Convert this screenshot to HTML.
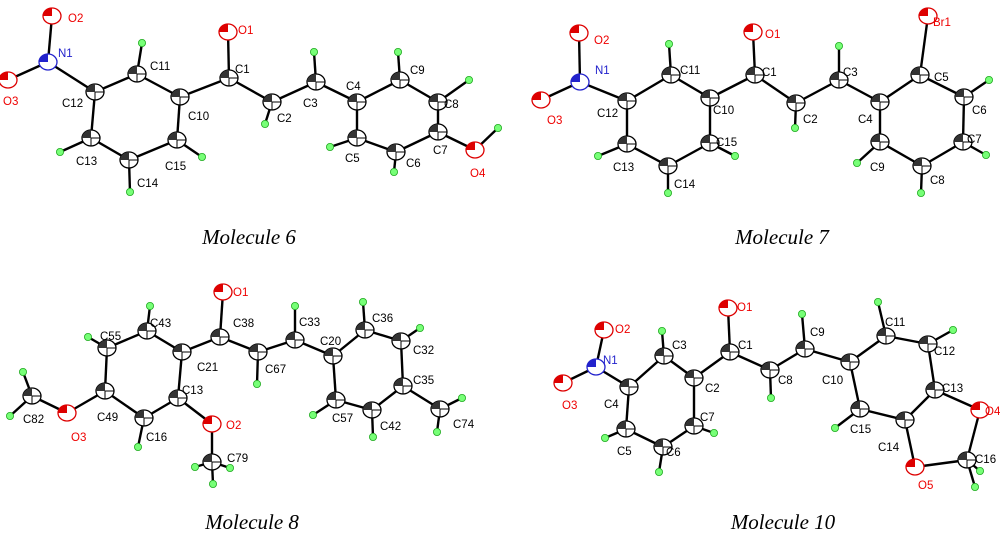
<!DOCTYPE html>
<html><head><meta charset="utf-8"><style>
body{margin:0;background:#fff}
svg text{font-family:"Liberation Sans",sans-serif;font-size:11.5px}
.cap{font-family:"Liberation Serif",serif;font-style:italic;font-size:21px}
.r{fill:#e00}.b{fill:#22c}
line{stroke:#000;stroke-width:2.4}
</style></head><body>
<svg width="1000" height="539" viewBox="0 0 1000 539" xmlns="http://www.w3.org/2000/svg">
<defs>
<symbol id="c" overflow="visible"><ellipse cx="0" cy="0" rx="9" ry="8" fill="#fff" stroke="#000" stroke-width="1.3"/><path d="M0 0 L-9 0 A9 8 0 0 1 0 -8 Z" fill="#333"/><path d="M0 0 L0 8 M0 0 L9 0" stroke="#000" stroke-width="1"/></symbol>
<symbol id="o" overflow="visible"><ellipse cx="0" cy="0" rx="9" ry="8" fill="#fff" stroke="#d00" stroke-width="1.3"/><path d="M0 0 L-9 0 A9 8 0 0 1 0 -8 Z" fill="#d00"/></symbol>
<symbol id="n" overflow="visible"><ellipse cx="0" cy="0" rx="9" ry="8" fill="#fff" stroke="#22c" stroke-width="1.3"/><path d="M0 0 L-9 0 A9 8 0 0 1 0 -8 Z" fill="#22c"/></symbol>
<symbol id="h" overflow="visible"><circle r="3.6" fill="#7f7" stroke="#2a2" stroke-width="0.8"/></symbol>
</defs>

<!-- Molecule 6 bonds -->
<g>
<line x1="52" y1="16" x2="48" y2="62"/><line x1="48" y1="62" x2="8" y2="80"/><line x1="48" y1="62" x2="95" y2="92"/>
<line x1="95" y1="92" x2="137" y2="74"/><line x1="137" y1="74" x2="180" y2="97"/><line x1="180" y1="97" x2="177" y2="140"/>
<line x1="177" y1="140" x2="129" y2="160"/><line x1="129" y1="160" x2="91" y2="138"/><line x1="91" y1="138" x2="95" y2="92"/>
<line x1="180" y1="97" x2="229" y2="78"/><line x1="229" y1="78" x2="228" y2="32"/><line x1="229" y1="78" x2="272" y2="102"/>
<line x1="272" y1="102" x2="316" y2="82"/><line x1="316" y1="82" x2="357" y2="102"/><line x1="357" y1="102" x2="400" y2="80"/>
<line x1="400" y1="80" x2="438" y2="102"/><line x1="438" y1="102" x2="438" y2="132"/><line x1="438" y1="132" x2="396" y2="152"/>
<line x1="396" y1="152" x2="357" y2="138"/><line x1="357" y1="138" x2="357" y2="102"/><line x1="438" y1="132" x2="475" y2="150"/>
<line x1="475" y1="150" x2="498" y2="128"/>
<line x1="137" y1="74" x2="142" y2="43"/><line x1="91" y1="138" x2="60" y2="152"/><line x1="129" y1="160" x2="130" y2="192"/>
<line x1="177" y1="140" x2="202" y2="157"/><line x1="272" y1="102" x2="265" y2="124"/><line x1="316" y1="82" x2="314" y2="52"/>
<line x1="400" y1="80" x2="398" y2="52"/><line x1="438" y1="102" x2="469" y2="80"/><line x1="396" y1="152" x2="394" y2="172"/>
<line x1="357" y1="138" x2="330" y2="147"/>
</g>
<g>
<use href="#o" x="52" y="16"/><use href="#n" x="48" y="62"/><use href="#o" x="8" y="80"/><use href="#c" x="95" y="92"/>
<use href="#c" x="137" y="74"/><use href="#c" x="180" y="97"/><use href="#c" x="229" y="78"/><use href="#o" x="228" y="32"/>
<use href="#c" x="272" y="102"/><use href="#c" x="316" y="82"/><use href="#c" x="357" y="102"/><use href="#c" x="400" y="80"/>
<use href="#c" x="438" y="102"/><use href="#c" x="438" y="132"/><use href="#o" x="475" y="150"/><use href="#c" x="396" y="152"/>
<use href="#c" x="357" y="138"/><use href="#c" x="177" y="140"/><use href="#c" x="129" y="160"/><use href="#c" x="91" y="138"/>
<use href="#h" x="498" y="128"/><use href="#h" x="142" y="43"/><use href="#h" x="60" y="152"/><use href="#h" x="130" y="192"/>
<use href="#h" x="202" y="157"/><use href="#h" x="265" y="124"/><use href="#h" x="314" y="52"/><use href="#h" x="398" y="52"/>
<use href="#h" x="469" y="80"/><use href="#h" x="394" y="172"/><use href="#h" x="330" y="147"/>
</g>
<g>
<text x="68" y="22" class="r">O2</text><text x="58" y="57" class="b">N1</text><text x="3" y="105" class="r">O3</text>
<text x="62" y="107">C12</text><text x="150" y="70">C11</text><text x="235" y="73">C1</text><text x="188" y="120">C10</text>
<text x="277" y="122">C2</text><text x="303" y="107">C3</text><text x="346" y="90">C4</text><text x="410" y="74">C9</text>
<text x="444" y="108">C8</text><text x="433" y="154">C7</text><text x="470" y="177" class="r">O4</text><text x="406" y="167">C6</text>
<text x="345" y="162">C5</text><text x="165" y="170">C15</text><text x="137" y="187">C14</text><text x="76" y="165">C13</text>
<text x="238" y="34" class="r">O1</text>
</g>

<!-- Molecule 7 -->
<g>
<line x1="579" y1="33" x2="580" y2="82"/><line x1="580" y1="82" x2="541" y2="100"/><line x1="580" y1="82" x2="627" y2="101"/>
<line x1="627" y1="101" x2="671" y2="75"/><line x1="671" y1="75" x2="710" y2="98"/><line x1="710" y1="98" x2="710" y2="143"/>
<line x1="710" y1="143" x2="668" y2="166"/><line x1="668" y1="166" x2="627" y2="144"/><line x1="627" y1="144" x2="627" y2="101"/>
<line x1="710" y1="98" x2="755" y2="75"/><line x1="755" y1="75" x2="753" y2="32"/><line x1="755" y1="75" x2="796" y2="103"/>
<line x1="796" y1="103" x2="839" y2="80"/><line x1="839" y1="80" x2="880" y2="102"/><line x1="880" y1="102" x2="920" y2="75"/>
<line x1="920" y1="75" x2="928" y2="16"/><line x1="920" y1="75" x2="964" y2="97"/><line x1="964" y1="97" x2="963" y2="142"/>
<line x1="963" y1="142" x2="922" y2="166"/><line x1="922" y1="166" x2="880" y2="142"/><line x1="880" y1="142" x2="880" y2="102"/>
<line x1="671" y1="75" x2="669" y2="44"/><line x1="627" y1="144" x2="598" y2="156"/><line x1="668" y1="166" x2="668" y2="193"/>
<line x1="710" y1="143" x2="735" y2="156"/><line x1="796" y1="103" x2="795" y2="128"/><line x1="839" y1="80" x2="839" y2="46"/>
<line x1="964" y1="97" x2="989" y2="80"/><line x1="963" y1="142" x2="986" y2="155"/><line x1="922" y1="166" x2="921" y2="193"/>
<line x1="880" y1="142" x2="857" y2="163"/>
</g>
<g>
<use href="#o" x="579" y="33"/><use href="#n" x="580" y="82"/><use href="#o" x="541" y="100"/><use href="#c" x="627" y="101"/>
<use href="#c" x="671" y="75"/><use href="#c" x="710" y="98"/><use href="#c" x="755" y="75"/><use href="#o" x="753" y="32"/>
<use href="#c" x="796" y="103"/><use href="#c" x="839" y="80"/><use href="#c" x="880" y="102"/><use href="#c" x="920" y="75"/>
<use href="#o" x="928" y="16"/><use href="#c" x="964" y="97"/><use href="#c" x="963" y="142"/><use href="#c" x="922" y="166"/>
<use href="#c" x="880" y="142"/><use href="#c" x="710" y="143"/><use href="#c" x="668" y="166"/><use href="#c" x="627" y="144"/>
<use href="#h" x="669" y="44"/><use href="#h" x="598" y="156"/><use href="#h" x="668" y="193"/><use href="#h" x="735" y="156"/>
<use href="#h" x="795" y="128"/><use href="#h" x="839" y="46"/><use href="#h" x="989" y="80"/><use href="#h" x="986" y="155"/>
<use href="#h" x="921" y="193"/><use href="#h" x="857" y="163"/>
</g>
<g>
<text x="594" y="44" class="r">O2</text><text x="595" y="74" class="b">N1</text><text x="547" y="124" class="r">O3</text>
<text x="597" y="117">C12</text><text x="680" y="74">C11</text><text x="762" y="76">C1</text><text x="713" y="114">C10</text>
<text x="803" y="123">C2</text><text x="843" y="76">C3</text><text x="858" y="123">C4</text><text x="934" y="81">C5</text>
<text x="972" y="114">C6</text><text x="967" y="143">C7</text><text x="930" y="184">C8</text><text x="870" y="171">C9</text>
<text x="716" y="146">C15</text><text x="674" y="188">C14</text><text x="613" y="171">C13</text><text x="933" y="26" class="r">Br1</text>
<text x="765" y="38" class="r">O1</text>
</g>

<!-- Molecule 8 -->
<g>
<line x1="223" y1="292" x2="220" y2="337"/><line x1="220" y1="337" x2="182" y2="352"/><line x1="182" y1="352" x2="147" y2="331"/>
<line x1="147" y1="331" x2="107" y2="348"/><line x1="107" y1="348" x2="105" y2="391"/><line x1="105" y1="391" x2="144" y2="418"/>
<line x1="144" y1="418" x2="178" y2="398"/><line x1="178" y1="398" x2="182" y2="352"/><line x1="105" y1="391" x2="67" y2="413"/>
<line x1="67" y1="413" x2="32" y2="396"/><line x1="178" y1="398" x2="212" y2="424"/><line x1="212" y1="424" x2="212" y2="462"/>
<line x1="220" y1="337" x2="258" y2="352"/><line x1="258" y1="352" x2="295" y2="340"/><line x1="295" y1="340" x2="333" y2="356"/>
<line x1="333" y1="356" x2="365" y2="330"/><line x1="365" y1="330" x2="401" y2="341"/><line x1="401" y1="341" x2="403" y2="386"/>
<line x1="403" y1="386" x2="372" y2="410"/><line x1="372" y1="410" x2="336" y2="400"/><line x1="336" y1="400" x2="333" y2="356"/>
<line x1="403" y1="386" x2="440" y2="409"/>
<line x1="147" y1="331" x2="150" y2="306"/><line x1="107" y1="348" x2="88" y2="337"/><line x1="32" y1="396" x2="23" y2="372"/>
<line x1="32" y1="396" x2="10" y2="416"/><line x1="144" y1="418" x2="138" y2="447"/><line x1="212" y1="462" x2="195" y2="467"/>
<line x1="212" y1="462" x2="213" y2="484"/><line x1="212" y1="462" x2="230" y2="468"/><line x1="258" y1="352" x2="257" y2="384"/>
<line x1="295" y1="340" x2="295" y2="306"/><line x1="365" y1="330" x2="363" y2="302"/><line x1="401" y1="341" x2="420" y2="328"/>
<line x1="440" y1="409" x2="462" y2="398"/><line x1="440" y1="409" x2="437" y2="432"/><line x1="372" y1="410" x2="373" y2="437"/>
<line x1="336" y1="400" x2="313" y2="415"/>
</g>
<g>
<use href="#o" x="223" y="292"/><use href="#c" x="220" y="337"/><use href="#c" x="182" y="352"/><use href="#c" x="147" y="331"/>
<use href="#c" x="107" y="348"/><use href="#c" x="105" y="391"/><use href="#o" x="67" y="413"/><use href="#c" x="32" y="396"/>
<use href="#c" x="144" y="418"/><use href="#c" x="178" y="398"/><use href="#o" x="212" y="424"/><use href="#c" x="212" y="462"/>
<use href="#c" x="258" y="352"/><use href="#c" x="295" y="340"/><use href="#c" x="333" y="356"/><use href="#c" x="365" y="330"/>
<use href="#c" x="401" y="341"/><use href="#c" x="403" y="386"/><use href="#c" x="440" y="409"/><use href="#c" x="372" y="410"/>
<use href="#c" x="336" y="400"/>
<use href="#h" x="150" y="306"/><use href="#h" x="88" y="337"/><use href="#h" x="23" y="372"/><use href="#h" x="10" y="416"/>
<use href="#h" x="138" y="447"/><use href="#h" x="195" y="467"/><use href="#h" x="213" y="484"/><use href="#h" x="230" y="468"/>
<use href="#h" x="257" y="384"/><use href="#h" x="295" y="306"/><use href="#h" x="363" y="302"/><use href="#h" x="420" y="328"/>
<use href="#h" x="462" y="398"/><use href="#h" x="437" y="432"/><use href="#h" x="373" y="437"/><use href="#h" x="313" y="415"/>
</g>
<g>
<text x="233" y="296" class="r">O1</text><text x="233" y="327">C38</text><text x="197" y="371">C21</text><text x="150" y="327">C43</text>
<text x="100" y="340">C55</text><text x="97" y="421">C49</text><text x="71" y="441" class="r">O3</text><text x="23" y="423">C82</text>
<text x="146" y="441">C16</text><text x="182" y="394">C13</text><text x="226" y="429" class="r">O2</text><text x="227" y="462">C79</text>
<text x="265" y="373">C67</text><text x="299" y="326">C33</text><text x="320" y="345">C20</text><text x="372" y="322">C36</text>
<text x="413" y="354">C32</text><text x="413" y="384">C35</text><text x="453" y="428">C74</text><text x="380" y="430">C42</text>
<text x="332" y="422">C57</text>
</g>

<!-- Molecule 10 -->
<g>
<line x1="728" y1="308" x2="730" y2="352"/><line x1="730" y1="352" x2="694" y2="378"/><line x1="694" y1="378" x2="664" y2="356"/>
<line x1="664" y1="356" x2="629" y2="387"/><line x1="629" y1="387" x2="596" y2="367"/><line x1="596" y1="367" x2="604" y2="330"/>
<line x1="596" y1="367" x2="563" y2="383"/><line x1="629" y1="387" x2="626" y2="429"/><line x1="626" y1="429" x2="663" y2="447"/>
<line x1="663" y1="447" x2="694" y2="426"/><line x1="694" y1="426" x2="694" y2="378"/><line x1="730" y1="352" x2="770" y2="370"/>
<line x1="770" y1="370" x2="805" y2="349"/><line x1="805" y1="349" x2="850" y2="362"/><line x1="850" y1="362" x2="886" y2="336"/>
<line x1="886" y1="336" x2="928" y2="344"/><line x1="928" y1="344" x2="935" y2="390"/><line x1="935" y1="390" x2="905" y2="420"/>
<line x1="905" y1="420" x2="860" y2="409"/><line x1="860" y1="409" x2="850" y2="362"/><line x1="935" y1="390" x2="980" y2="410"/>
<line x1="980" y1="410" x2="967" y2="460"/><line x1="967" y1="460" x2="915" y2="467"/><line x1="915" y1="467" x2="905" y2="420"/>
<line x1="664" y1="356" x2="662" y2="331"/><line x1="626" y1="429" x2="605" y2="438"/><line x1="663" y1="447" x2="659" y2="472"/>
<line x1="694" y1="426" x2="714" y2="433"/><line x1="770" y1="370" x2="771" y2="398"/><line x1="805" y1="349" x2="802" y2="314"/>
<line x1="886" y1="336" x2="878" y2="302"/><line x1="928" y1="344" x2="953" y2="330"/><line x1="967" y1="460" x2="980" y2="471"/>
<line x1="967" y1="460" x2="975" y2="487"/><line x1="860" y1="409" x2="835" y2="428"/>
</g>
<g>
<use href="#o" x="728" y="308"/><use href="#c" x="730" y="352"/><use href="#c" x="694" y="378"/><use href="#c" x="664" y="356"/>
<use href="#n" x="596" y="367"/><use href="#o" x="604" y="330"/><use href="#o" x="563" y="383"/><use href="#c" x="629" y="387"/>
<use href="#c" x="626" y="429"/><use href="#c" x="663" y="447"/><use href="#c" x="694" y="426"/><use href="#c" x="770" y="370"/>
<use href="#c" x="805" y="349"/><use href="#c" x="850" y="362"/><use href="#c" x="886" y="336"/><use href="#c" x="928" y="344"/>
<use href="#c" x="935" y="390"/><use href="#o" x="980" y="410"/><use href="#c" x="967" y="460"/><use href="#o" x="915" y="467"/>
<use href="#c" x="905" y="420"/><use href="#c" x="860" y="409"/>
<use href="#h" x="662" y="331"/><use href="#h" x="605" y="438"/><use href="#h" x="659" y="472"/><use href="#h" x="714" y="433"/>
<use href="#h" x="771" y="398"/><use href="#h" x="802" y="314"/><use href="#h" x="878" y="302"/><use href="#h" x="953" y="330"/>
<use href="#h" x="980" y="471"/><use href="#h" x="975" y="487"/><use href="#h" x="835" y="428"/>
</g>
<g>
<text x="737" y="311" class="r">O1</text><text x="738" y="349">C1</text><text x="705" y="392">C2</text><text x="672" y="349">C3</text>
<text x="603" y="364" class="b">N1</text><text x="615" y="333" class="r">O2</text><text x="562" y="409" class="r">O3</text><text x="604" y="408">C4</text>
<text x="617" y="455">C5</text><text x="666" y="456">C6</text><text x="700" y="421">C7</text><text x="778" y="384">C8</text>
<text x="810" y="336">C9</text><text x="822" y="384">C10</text><text x="885" y="326">C11</text><text x="934" y="355">C12</text>
<text x="942" y="392">C13</text><text x="985" y="415" class="r">O4</text><text x="975" y="463">C16</text><text x="918" y="489" class="r">O5</text>
<text x="878" y="451">C14</text><text x="850" y="433">C15</text>
</g>

<text x="249" y="244" class="cap" text-anchor="middle">Molecule 6</text>
<text x="782" y="244" class="cap" text-anchor="middle">Molecule 7</text>
<text x="252" y="529" class="cap" text-anchor="middle">Molecule 8</text>
<text x="783" y="529" class="cap" text-anchor="middle">Molecule 10</text>
</svg>
</body></html>
